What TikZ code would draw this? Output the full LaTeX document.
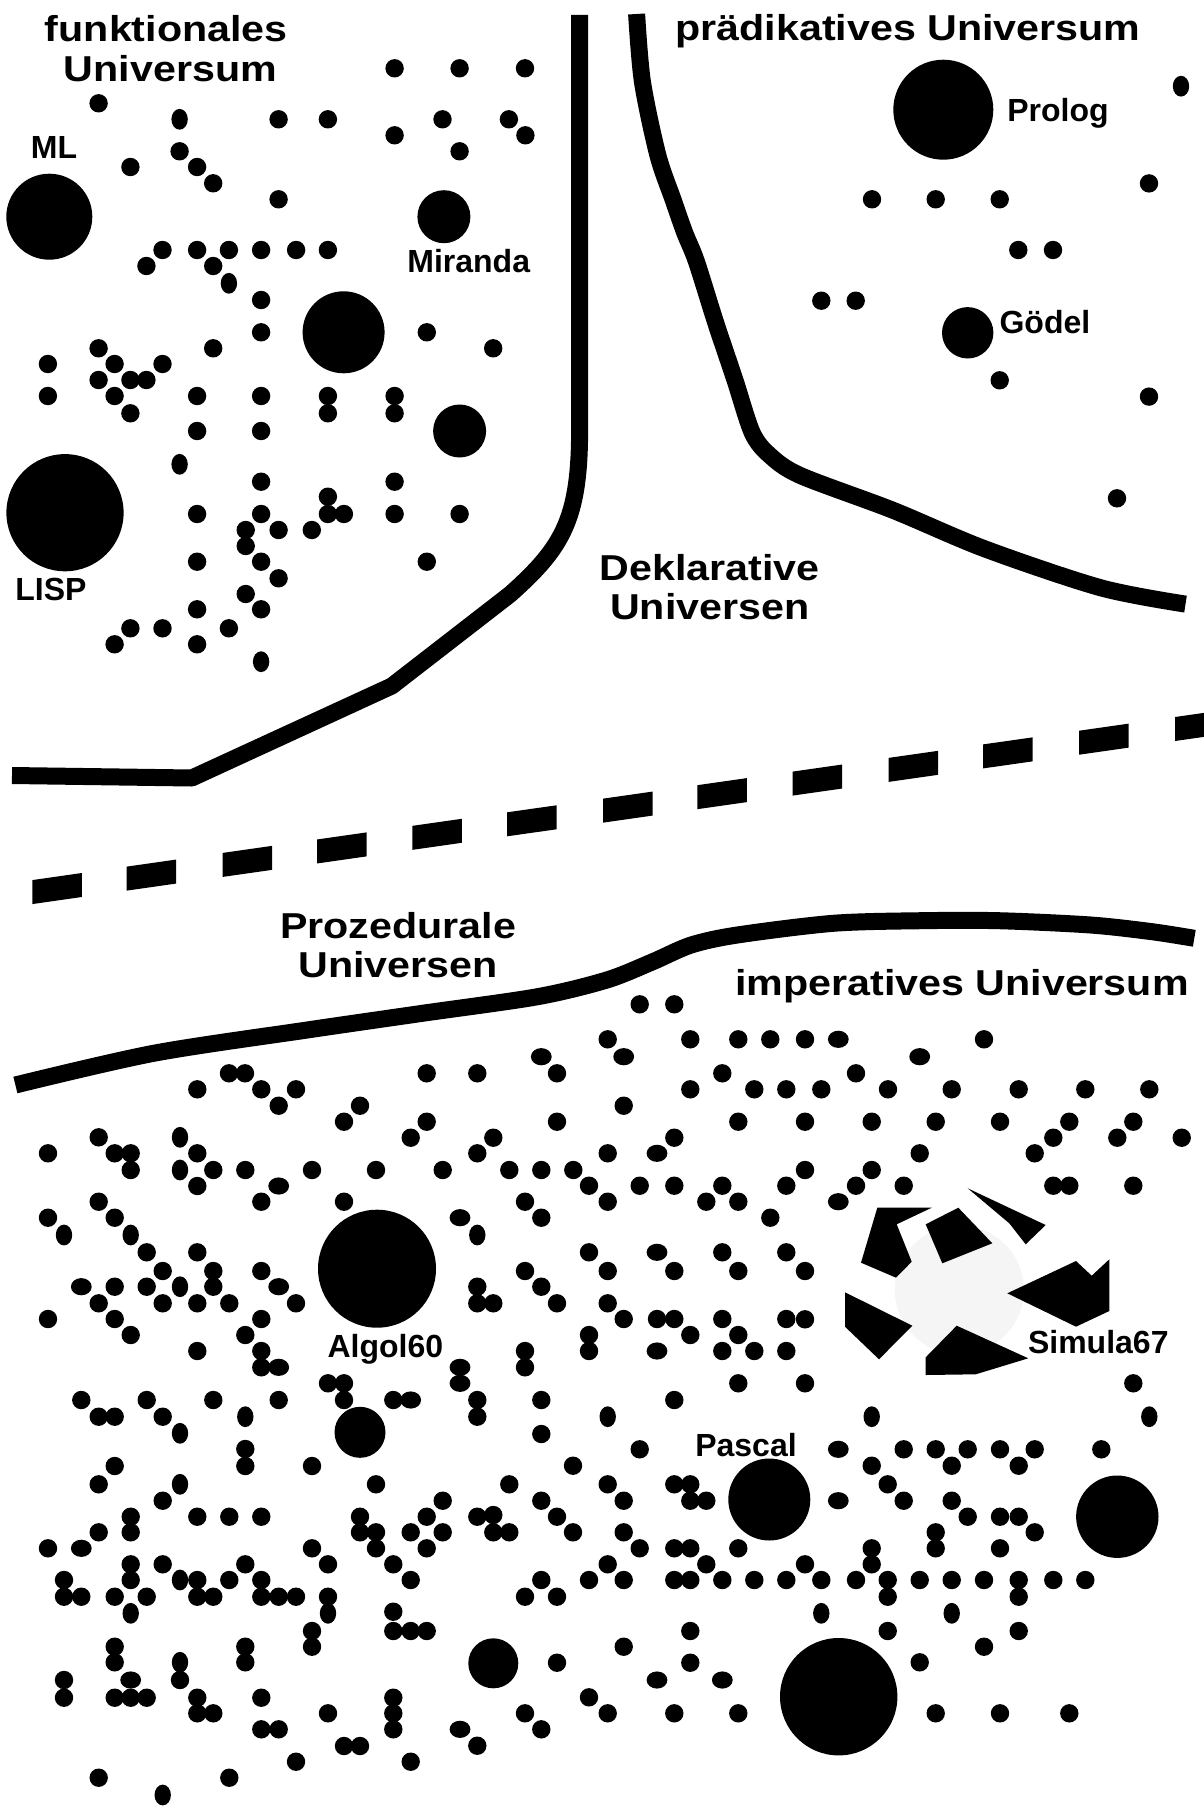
\documentclass[tikz,border=0pt]{standalone}
\usepackage{fontspec}
\setmainfont{Liberation Sans}
\newfontfamily\titlefont[FakeStretch=1.145]{Liberation Sans}
\begin{document}
\begin{tikzpicture}[x=1pt,y=-1pt,
  title/.style={font=\titlefont\bfseries\fontsize{36}{40}\selectfont, inner sep=0pt, anchor=base},
  lbl/.style={font=\bfseries\fontsize{32}{36}\selectfont, inner sep=0pt, anchor=base},
  border/.style={line width=17pt, line cap=butt, line join=round},
  planet/.style={fill=black}]
\fill[white] (0,0) rectangle (1204,1806);
\useasboundingbox (0,0) rectangle (1204,1806);

% ---------- boundaries ----------
\draw[border] (579.6,15) -- (579.6,430) .. controls (579.6,520) and (562,548) .. (510,594.4)
  -- (391.8,686) -- (191.8,778) -- (12,775.5);
\draw[border] plot[smooth, tension=0.5] coordinates {(636.6,14) (642.4,81.6) (657.8,155) (673.2,200) (684.7,232.7)
  (696.3,261.2) (715.6,322.4) (734.8,379.6) (752.2,432.7) (769.5,455.1) (800.3,475.5) (892.8,510.2)
  (985.2,549) (1100.8,587.8) (1185.5,604.1)};
\draw[border] plot[smooth, tension=0.5] coordinates {(15.4,1085) (153.6,1053.3) (307.2,1030) (422.4,1013.3)
  (537.6,996.7) (606.8,980) (652.8,961.7) (691.2,945) (737.3,935) (833.3,923.3) (921.7,920.7)
  (998.5,920.7) (1090.6,925) (1152,931.7) (1194.3,938.3)};

% dashed divider
\foreach \a in {32.3,126.7,222.7,317.2,412.4,507,603,697.4,792.6,888.6,983.1,1079,1175} {
  \pgfmathsetmacro\b{min(\a+49.5,1204)}
  \pgfmathsetmacro\ya{888.7-0.1427*(\a-56)}
  \pgfmathsetmacro\yb{888.7-0.1427*(\b-56)}
  \fill (\a,\ya-12) -- (\b,\yb-12) -- (\b,\yb+12) -- (\a,\ya+12) -- cycle;
}

% ---------- titles ----------
\node[title] (fu1) at (166.3,42) {funktionales};
\node[title] (fu2) at (170.5,82) {Universum};
\node[title] (pr) at (908,41) {prädikatives Universum};
\node[title] (de1) at (709.8,580) {Deklarative};
\node[title] (de2) at (709.8,619) {Universen};
\node[title] (pz1) at (398.2,938.5) {Prozedurale};
\node[title] (pz2) at (398.2,977) {Universen};
\node[title] (im) at (962,995.5) {imperatives Universum};

% ---------- large planets ----------
\foreach \x/\y/\r in {49.3/216.7/43, 443.9/216.7/26.5, 343.6/332.3/41, 459.6/431/26.5, 65/512.7/58.6,
  943.3/109.7/50, 967.7/332.8/25.7, 377/1268.7/59, 360/1432.3/25.5, 493.3/1663.3/25,
  769.3/1499.5/41, 1117.3/1516.7/41.2, 838.7/1696.7/58.7}
  \fill[planet] (\x,\y) circle [radius=\r pt];

% Simula67: broken planet
\fill[black!4] (959.3,1290) circle [radius=64.5pt];
\fill (877.3,1207.7) -- (931.7,1207.7) -- (896.7,1224.3) -- (911.7,1261.7) -- (896,1277.7) -- (861,1262.7) -- cycle;
\fill (925.7,1224.3) -- (958.3,1207.7) -- (992.3,1243.3) -- (942.3,1263.3) -- cycle;
\fill (967.7,1188.3) -- (1045.7,1225) -- (1025.7,1244.3) -- (1009.3,1223.3) -- cycle;
\fill (1007.3,1293.3) -- (1076,1261) -- (1091.7,1275.7) -- (1109.3,1259.3) -- (1109.3,1311) -- (1076,1326.7) -- cycle;
\fill (845,1292.3) -- (912.3,1325.7) -- (879,1359.3) -- (845,1326.7) -- cycle;
\fill (925.7,1357.3) -- (956.7,1325.7) -- (1028.3,1358.3) -- (975.7,1374.3) -- (925.7,1375) -- cycle;

% ---------- labels ----------
\node[lbl] (ml) at (54.1,158.3) {ML};
\node[lbl] (mi) at (468.7,272.7) {Miranda};
\node[lbl] (li) at (50.9,600.7) {LISP};
\node[lbl] (pl) at (1058,121.3) {Prolog};
\node[lbl] (go) at (1044.9,333) {Gödel};
\node[lbl] (al) at (385.3,1357.7) {Algol60};
\node[lbl] (si) at (1098.3,1353.3) {Simula67};
\node[lbl] (pa) at (746,1456) {Pascal};

% ---------- small dots: round ----------
\foreach \x/\y in {
  394.6/68.3, 459.6/68.3, 525/68.3, 98.6/103.3,
  278.6/119.3, 327.9/119.3, 442.5/119.3, 508.9/119.3, 394.6/135.3, 525.4/135.3,
  459.6/151.3, 179.6/151.3, 130.4/167, 197.1/167, 213.2/183.3, 278.6/199.3,
  162.5/250, 197.1/250, 228.9/250, 261.1/250, 296.1/250, 327.9/250,
  146.4/266, 213.2/266, 261.1/300, 261.1/332.3, 426.8/332.3,
  493.2/348.3, 213.2/348.3, 98.6/348.3, 114.6/364, 162.5/364, 47.9/364,
  98.6/380, 130.4/380, 146.4/380,
  47.9/396, 114.6/396, 197.1/396, 261.1/396, 327.9/396, 394.6/396,
  130.4/413.3, 327.9/413.3, 394.6/413.3, 197.1/431, 261.1/431,
  261.1/481.7, 394.6/481.7, 327.9/496.7,
  197.1/514, 261.1/514, 327.9/514, 343.9/514, 394.6/514, 459.6/514,
  245.7/530, 278.6/530, 311.8/530, 245.7/546,
  197.1/561.7, 261.1/561.7, 426.8/561.7, 278.6/578.3, 245.7/594,
  197.1/609.3, 261.1/609.3, 130.4/628.3, 162.5/628.3, 228.9/628.3,
  114.6/644.3, 197.1/644.3,
  1149/183.4, 872/199.3, 935.7/199.3, 999.7/199.3, 1018.3/250, 1053/250,
  821.3/300.7, 855.7/300.7, 999.7/380.3, 1149/396.6, 1117/498.3,
  229/1073.3, 245/1073.3, 197.3/1089.3, 261.3/1089.3, 296/1089.3, 278.7/1105.7, 360/1105.7, 344/1121.7,
  98.7/1137.3, 48/1153.3, 114.7/1153.3, 130.7/1153.3, 197.3/1153.3,
  130.7/1170, 213.3/1170, 245.3/1170, 312/1170, 376/1170,
  197.3/1186, 261.3/1201.7, 98.7/1201.7, 344/1201.7, 48/1217.7, 114.7/1217.7,
  146.7/1252.3, 197.3/1252.3, 162.7/1271, 213.3/1271, 261.3/1271,
  114.7/1286.7, 146.7/1286.7, 213.3/1286.7,
  98.7/1303.3, 162.7/1303.3, 197.3/1303.3, 229.3/1303.3, 296/1303.3,
  48/1319, 114.7/1319, 261.3/1319, 130.7/1335, 245.3/1335,
  197.3/1351, 261.3/1351, 261.3/1367.3, 328/1383.3, 344/1383.3,
  639.7/1004.3, 674.3/1004.3,
  607.7/1039.3, 690.3/1039.3, 738.3/1039.3, 770.3/1039.3,
  426.7/1073.3, 477.3/1073.3, 557/1073.3, 722.3/1073.3,
  690.3/1089.3, 754.3/1089.3, 786.3/1089.3, 623.7/1105.7,
  426.7/1121.7, 557/1121.7, 738.3/1121.7, 410.7/1137.7, 493.3/1137.7, 674.3/1137.7,
  477.3/1153.3, 607.7/1153.3,
  442.7/1170, 509.3/1170, 541.3/1170, 573.3/1170,
  589/1185.7, 639.7/1185.7, 674.3/1185.7, 722.3/1185.7, 786.3/1185.7,
  525/1201.7, 607.7/1201.7, 706.3/1201.7, 738.3/1201.7,
  541.3/1217.7, 770.3/1217.7,
  589/1252.3, 722.3/1252.3, 786.3/1252.3,
  525/1271, 607.7/1271, 674.3/1271, 738.3/1271, 477.3/1286.7, 541.3/1286.7,
  477.3/1303.3, 493.3/1303.3, 557/1303.3, 607.7/1303.3,
  623.7/1319, 657/1319, 674.3/1319, 722.3/1319, 786.3/1319,
  589/1335, 690.3/1335, 738.3/1335,
  525/1351, 589/1351, 722.3/1351, 754.3/1351, 786.3/1351,
  525/1367.3, 738.3/1383.3,
  805/1039.3, 984/1039.3, 856/1073.3,
  821.3/1089.3, 888/1089.3, 951.7/1089.3, 1018.7/1089.3, 1085.3/1089.3, 1149.3/1089.3,
  805/1121.7, 871.7/1121.7, 935.7/1121.7, 1000/1121.7, 1069.3/1121.7, 1133.3/1121.7,
  1053.3/1137.7, 1117.3/1137.7, 1181.7/1137.7, 919.7/1153.3, 1034.7/1153.3,
  805/1170, 871.7/1170,
  856/1185.7, 903.7/1185.7, 1053.3/1185.7, 1069.3/1185.7, 1133.3/1185.7,
  805/1271, 805/1319.3, 1133.3/1383.3, 805/1383.3,
  81.3/1400, 146.7/1400, 213.3/1400, 278.7/1400, 344/1400, 393.3/1400,
  98.7/1416.7, 114.7/1416.7, 162.7/1416.7,
  245.3/1449, 245.3/1466, 114.7/1466, 312/1466,
  98.7/1484.3, 376/1484.3, 162.7/1500.7,
  130.7/1516.7, 197.3/1516.7, 229.3/1516.7, 261.3/1516.7, 360/1516.7,
  98.7/1532.3, 130.7/1532.3, 360/1532.3, 376/1532.3,
  48/1548.3, 312/1548.3, 376/1548.3,
  130.7/1564.3, 162.7/1564.3, 245.3/1564.3, 328/1564.3, 393.3/1564.3,
  64/1580, 130.7/1580, 197.3/1580, 229.3/1580, 261.3/1580,
  64/1596.7, 81.3/1596.7, 114.7/1596.7, 146.7/1596.7, 197.3/1596.7, 213.3/1596.7,
  261.3/1596.7, 278.7/1596.7, 296/1596.7, 328/1596.7,
  393.3/1611.7, 312/1631, 393.3/1631,
  114.7/1646.7, 245.3/1646.7, 312/1646.7, 114.7/1662.3, 245.3/1662.3,
  64/1680, 180/1680,
  64/1697.7, 114.7/1697.7, 130.7/1697.7, 146.7/1697.7, 197.3/1697.7, 261.3/1697.7, 393.3/1697.7,
  197.3/1713.3, 213.3/1713.3, 328/1713.3, 393.3/1713.3,
  261.3/1729.3, 278.7/1729.3, 393.3/1729.3, 344/1746, 360/1746,
  296/1761.7, 98.7/1777.7, 229.3/1777.7,
  477.3/1400, 477.3/1416.7, 541.3/1400, 674.3/1400, 541.3/1434, 639.7/1449.3, 573/1465.7,
  509.3/1484.3, 607.7/1484.3, 674.3/1484.3, 690.3/1484.3,
  442.7/1500.7, 541.3/1500.7, 623.7/1500.7, 690.3/1500.7, 706.3/1500.7,
  426.7/1516.7, 477.3/1516.7, 493.3/1515, 557/1516.7,
  410.7/1532.3, 442.7/1532.3, 493.3/1532.3, 509.3/1532.3, 573/1532.3, 623.7/1532.3,
  426.7/1548.3, 639.7/1548.3, 674.3/1548.3, 690.3/1548.3, 738.3/1548.3,
  607.7/1564.3, 706.3/1564.3, 805/1564.3,
  410.7/1580, 541.3/1580, 589/1580, 623.7/1580, 674.3/1580, 690.3/1580, 722.3/1580, 754.3/1580, 786.3/1580,
  525/1596.7, 557/1596.7, 410.7/1631, 426.7/1631, 690.3/1631,
  623.7/1646.7, 557/1662.7, 690.3/1662.7, 589/1697.3,
  525/1713.3, 607.7/1713.3, 674.3/1713.3, 738.3/1713.3,
  541.3/1729.3, 477.3/1745.7, 410.7/1761.7,
  903.7/1449.3, 935.7/1449.3, 967.7/1449.3, 1000/1449.3, 1034.7/1449.3, 1101.3/1449.3,
  871.7/1465.7, 951.7/1465.7, 1018.7/1465.7, 887.7/1484.3,
  903.7/1500.7, 951.7/1500.7, 967.7/1516.7, 1000/1516.7, 1018.7/1516.7,
  935.7/1532.3, 1034.7/1532.3, 871.7/1548.3, 935.7/1548.3, 1000/1548.3, 871.7/1564.3,
  821.3/1580, 856/1580, 887.7/1580, 919.7/1580, 951.7/1580, 984/1580, 1018.7/1580, 1053.3/1580, 1085.3/1580,
  887.7/1596.7, 1018.7/1596.7, 887.7/1631, 1018.7/1631, 984/1646.7, 919.7/1662.3,
  935.7/1713.3, 1000/1713.3, 1069.3/1713.3}
  \fill (\x,\y) circle [radius=9.2pt];

% ---------- small dots: upright ovals ----------
\foreach \x/\y in {179.6/119.3, 228.9/283.3, 179.6/464.3, 261.1/661.7, 1181/86.2,
  180/1137.3, 180/1170, 64/1235, 130.7/1235, 180/1286.7, 477.3/1235,
  245.3/1416.7, 180/1433.3, 180/1484.3, 180/1580, 130.7/1613.3, 328/1613.3, 180/1662.3, 162.7/1795,
  607.7/1416.7, 871.7/1416.7, 1149.3/1416.7, 821.3/1613.3, 951.7/1613.3}
  \fill (\x,\y) ellipse [x radius=8.2pt, y radius=10.4pt];

% ---------- small dots: flat ovals ----------
\foreach \x/\y in {278.7/1186, 81.3/1286.7, 278.7/1286.7, 278.7/1367.3,
  623.7/1056.7, 541.3/1056.7, 657/1153.3, 460/1217.7, 657/1252.3, 657/1351, 460/1367.3, 460/1383.3,
  838.3/1039.3, 919.7/1056.7, 838.3/1201.7, 81.3/1548.3, 130.7/1680, 410.7/1400,
  657/1680, 722.3/1680, 460/1729.3, 838.3/1449.3, 838.3/1500.7}
  \fill (\x,\y) ellipse [x radius=10.4pt, y radius=8.6pt];
\end{tikzpicture}
\end{document}
